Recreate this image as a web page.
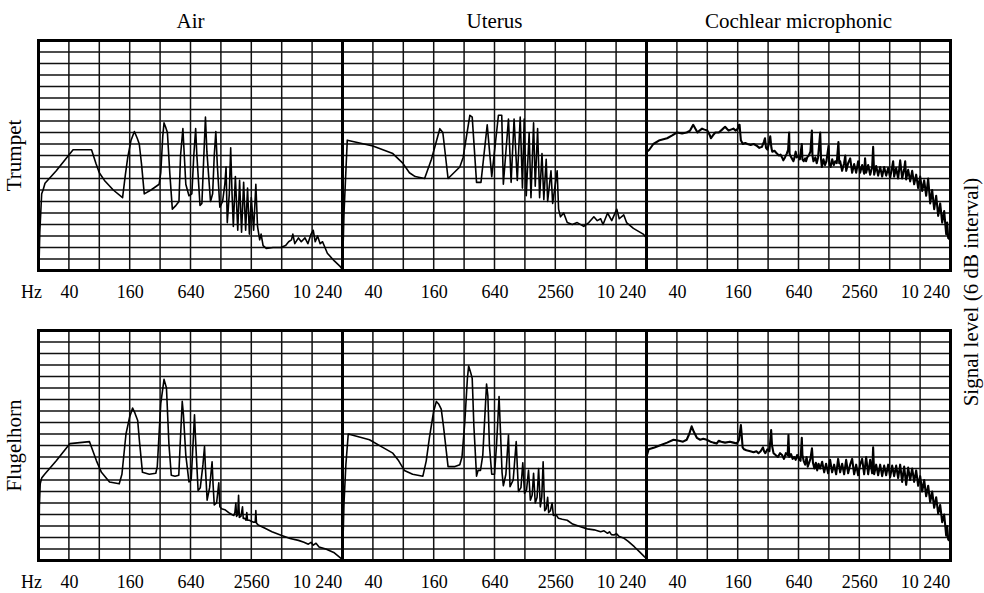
<!DOCTYPE html>
<html>
<head>
<meta charset="utf-8">
<script src="https://cdn.jsdelivr.net/npm/d3@7"></script>
<style>
  body { margin: 0; background: #fff; }
  svg { display: block; font-family: "Liberation Serif", "Times New Roman", serif; }
</style>
</head>
<body>
<div id="app"></div>
<script>
// spectra of trumpet / flugelhorn tones: air, in utero, and cochlear microphonic
// levels in dB above the bottom of the chart (grid = 6 dB), frequency in Hz

const columnTitles = ["Air", "Uterus", "Cochlear microphonic"];
const rowTitles = ["Trumpet", "Flugelhorn"];
const levelTitle = "Signal level (6 dB interval)";

const octaveGridHz = [40, 80, 160, 320, 640, 1280, 2560, 5120, 10240];
const tickHz = [40, 160, 640, 2560, 10240];
const tickText = ["40", "160", "640", "2560", "10 240"];
const levelGridDb = [6, 12, 18, 24, 30, 36, 42, 48, 54, 60, 66, 72, 78, 84, 90, 96, 102, 108, 114];

const trumpetAir = [
  [20.2, 1], [20.6, 20], [21.5, 40], [22.2, 42], [23.2, 45.5], [30, 52], [37, 58], [44, 63],
  [67, 63], [74, 56], [80, 51], [90, 47], [110, 42], [136, 38], [145, 50], [153, 59], [165, 68],
  [178, 72.5], [190, 69], [199, 66], [210, 55], [223, 40], [260, 42], [313, 45], [325, 51],
  [340, 70], [350, 77], [362, 75], [378, 72], [400, 50], [423, 32], [460, 34], [492, 36],
  [510, 60], [538, 74], [548, 66], [575, 45], [618, 39], [660, 40], [690, 60], [720, 74],
  [740, 60], [795, 34], [830, 35], [860, 55], [900, 80], [930, 62], [1010, 36], [1060, 40],
  [1100, 60], [1140, 72.5], [1180, 55], [1250, 33], [1330, 36], [1400, 45], [1440, 54],
  [1480, 25], [1550, 40], [1600, 64], [1650, 40], [1700, 23], [1780, 49], [1880, 21],
  [1960, 47], [2050, 20], [2150, 46], [2250, 21], [2350, 43], [2450, 19], [2560, 38],
  [2700, 21], [2840, 45], [2950, 23], [3100, 16], [3200, 19], [3350, 13], [3600, 11.5],
  [4200, 12], [5000, 12], [5600, 13], [6000, 15], [6400, 16], [6600, 19], [6900, 14],
  [7500, 17], [8000, 15], [8700, 17], [9300, 14], [10000, 19], [10500, 21], [11000, 15],
  [11600, 18], [12300, 14], [13000, 15], [14500, 9], [17000, 5], [19500, 2], [20480, 0.5]
];

const trumpetUterus = [
  [20, 1], [20.7, 30], [22.3, 68], [40, 65], [63, 61], [79, 56], [92, 51], [105, 49],
  [130, 48], [152, 58], [184, 74], [197, 72], [222, 48], [290, 54], [313, 59], [365, 81],
  [385, 80], [425, 46], [470, 46], [542, 76], [601, 49], [700, 81], [755, 81], [783, 45],
  [880, 79], [935, 46], [1000, 79], [1076, 47], [1150, 80], [1210, 43], [1260, 79],
  [1320, 39], [1410, 72], [1470, 38], [1560, 77], [1620, 44], [1710, 74], [1790, 38],
  [1890, 61], [1970, 37], [2080, 58], [2150, 36], [2320, 52], [2410, 35], [2670, 52],
  [2760, 32], [2880, 28], [3100, 30], [3360, 25], [3770, 24], [4220, 25], [4900, 23],
  [5500, 25], [6170, 28], [6670, 26], [7200, 27], [7600, 24], [8430, 30], [9270, 26],
  [10400, 32], [11000, 27], [12200, 29], [13000, 25], [15200, 22], [19000, 19], [20480, 17]
];

const trumpetCochlear = [
  [20, 57], [20.2, 62], [21.3, 63], [23.4, 66], [27, 68], [32, 69], [36, 70.5], [40, 72],
  [45, 71.5], [50, 72], [54, 73], [58, 76], [61, 74], [64, 72], [67, 73], [71, 74], [75, 73.5],
  [80, 73], [84, 71], [87, 69], [91, 70.5], [96, 72], [104, 72], [112, 73.5], [120, 75],
  [125, 74], [130, 73], [137, 73.5], [145, 74], [153, 73], [160, 74], [165, 76], [167, 76],
  [170, 71], [172, 68], [180, 66], [190, 66.5], [200, 66], [215, 65.5], [230, 66], [248, 65],
  [262, 64], [278, 64.5], [290, 67], [298, 69], [305, 64], [315, 63], [325, 66], [336, 70],
  [345, 64], [352, 62], [370, 62.5], [391, 61], [410, 60], [425, 60.5], [440, 59], [453, 57.5],
  [470, 59], [490, 61], [505, 63], [517, 72], [522, 61], [530, 60], [550, 58.5], [570, 57],
  [585, 59], [600, 62], [615, 59], [640, 60], [660, 58], [690, 66], [700, 58], [720, 57],
  [745, 58.5], [760, 57], [780, 59], [810, 60], [840, 62], [868, 73], [880, 60], [900, 57],
  [940, 59], [970, 56], [1000, 59], [1050, 72], [1070, 58], [1090, 54], [1130, 58], [1170, 55],
  [1210, 57], [1270, 65], [1290, 56], [1330, 54], [1380, 58], [1430, 55], [1480, 57],
  [1530, 56], [1590, 67], [1620, 56], [1654, 57], [1730, 52], [1810, 56], [1860, 60],
  [1900, 52], [1985, 56], [2080, 58.5], [2175, 51], [2276, 55.5], [2383, 51], [2494, 57],
  [2610, 51], [2732, 55], [2860, 50.5], [2920, 58.5], [2993, 51], [3133, 55], [3279, 50],
  [3432, 54], [3510, 64.5], [3592, 50], [3760, 54.5], [3935, 49.5], [4119, 54], [4311, 49],
  [4512, 54], [4723, 49.5], [4943, 53.5], [5174, 48.5], [5416, 54], [5540, 57], [5668, 49],
  [5933, 53.5], [6210, 48], [6500, 57.5], [6803, 48], [7121, 53], [7290, 57], [7453, 47.5],
  [7801, 52.5], [8165, 46.5], [8546, 52], [8945, 45], [9363, 50], [9800, 43], [10257, 49],
  [10736, 41.5], [11237, 47], [11762, 39], [12311, 48], [12885, 35], [13487, 42], [14116, 32],
  [14775, 39], [15465, 28.5], [16187, 35], [16942, 25], [17733, 31], [18561, 19], [19000, 25],
  [19427, 17], [20334, 16]
];

const flugelAir = [
  [20.2, 5], [20.4, 28], [20.8, 40], [21.5, 43], [23, 45], [30, 52], [41, 61], [64, 62],
  [75, 52], [84, 46], [101, 41], [126, 40], [134, 45], [147, 66], [160, 75], [171, 79.5],
  [180, 77], [192, 73], [200, 62], [214, 46], [250, 45], [290, 45.5], [300, 49], [325, 82],
  [350, 94.5], [370, 90], [391, 61], [413, 44.5], [450, 44], [490, 44.5], [505, 60], [530, 83],
  [545, 76], [575, 55], [618, 41], [650, 42], [680, 62], [701, 76], [720, 62], [761, 36.5],
  [800, 38], [850, 50], [881, 59.5], [900, 48], [935, 31.5], [990, 38], [1047, 51.5],
  [1070, 40], [1100, 29], [1160, 30], [1220, 40.5], [1250, 28], [1300, 27], [1400, 26.5],
  [1530, 25], [1640, 24], [1720, 23.5], [1760, 25], [1800, 30], [1830, 23], [1880, 24],
  [1915, 34], [1950, 22.5], [2020, 23], [2095, 28], [2130, 22], [2200, 22], [2270, 21],
  [2310, 25], [2350, 21], [2450, 21], [2560, 20.5], [2700, 20], [2800, 20], [2840, 26],
  [2880, 19.5], [3000, 18.5], [3500, 16.8], [4100, 15], [5120, 13], [6200, 11.5], [7500, 10.5],
  [8500, 9.5], [9400, 8.5], [10000, 9.5], [10500, 8], [11200, 9], [12000, 7], [14000, 6],
  [17000, 4], [20480, 0.5]
];

const flugelUterus = [
  [20, 1], [20.7, 30], [21.6, 50], [22.8, 66], [37, 63], [50, 59], [63, 56], [72, 52],
  [82, 47], [99, 45], [125, 44], [135, 52], [145, 64], [160, 78], [170, 83], [180, 81.5],
  [190, 79], [200, 70], [222, 49], [260, 49], [290, 50], [305, 54], [325, 72], [345, 95],
  [355, 101.5], [372, 98], [385, 95], [400, 70], [425, 44], [440, 47], [465, 47], [490, 55],
  [534, 92], [550, 86], [570, 60], [601, 45], [640, 45], [670, 60], [710, 85.5], [730, 70],
  [760, 46], [783, 39], [830, 45], [880, 65.5], [912, 38.5], [980, 42], [1050, 62],
  [1105, 36], [1170, 38], [1220, 51], [1270, 35], [1330, 37], [1390, 47], [1450, 31.5],
  [1510, 34], [1560, 45.5], [1620, 30], [1690, 33], [1750, 48], [1820, 28], [1880, 33],
  [1940, 51.5], [2010, 26], [2080, 27], [2150, 33], [2200, 25], [2290, 26], [2380, 30],
  [2450, 23.5], [2600, 24], [2750, 22], [3000, 21.5], [3360, 21], [3800, 19], [4550, 17.6],
  [5300, 16.5], [6200, 16], [7200, 15], [7780, 15.5], [8430, 14.2], [8800, 15], [9200, 13.5],
  [9760, 13.3], [10300, 14], [11000, 12.5], [12300, 11.6], [13500, 10], [15500, 7.2],
  [17500, 4.5], [19500, 2], [20480, 1]
];

const flugelCochlear = [
  [20, 52], [20.2, 55], [21, 58], [24, 59], [27, 60], [32, 61.5], [37, 63], [42, 62.5],
  [46, 62], [50, 63], [53, 66], [56, 70], [59, 67], [63, 64], [68, 63], [73, 63.5], [79, 63],
  [86, 62], [92, 61.5], [99, 61], [104, 62.5], [110, 62], [120, 61.5], [134, 62], [145, 61.5],
  [157, 61], [165, 63], [172, 70.7], [175, 66], [179, 59], [185, 58], [195, 57.5], [213, 57],
  [230, 56.5], [245, 57], [257, 56], [270, 57], [285, 59], [292, 57], [300, 56], [315, 58],
  [330, 57], [343, 68], [350, 60], [362, 56], [380, 55], [400, 54], [420, 56], [440, 55],
  [460, 53], [480, 56], [500, 55], [509, 65.5], [518, 54], [540, 55.5], [560, 53], [580, 54],
  [600, 52.5], [620, 55], [645, 53], [670, 52], [690, 64], [700, 55], [720, 52], [745, 50],
  [770, 54], [790, 49], [810, 50.5], [840, 53], [870, 58.5], [890, 51], [920, 48], [950, 51],
  [980, 47], [1010, 50.5], [1048, 48], [1097, 51.5], [1150, 46], [1200, 50.5], [1258, 45.5],
  [1316, 52.5], [1378, 46], [1442, 50], [1510, 45], [1580, 53], [1654, 46], [1731, 50.5],
  [1812, 45], [1897, 52.5], [1985, 45.5], [2078, 50], [2175, 53], [2276, 45], [2383, 50],
  [2494, 44.5], [2610, 50], [2732, 53], [2860, 45], [2993, 54], [3133, 45], [3279, 52.5],
  [3432, 45.5], [3510, 59], [3592, 45], [3760, 50], [3935, 44.5], [4119, 50], [4311, 44],
  [4512, 49.5], [4723, 44.5], [4943, 50], [5174, 43.5], [5416, 49.5], [5668, 44], [5933, 49.5],
  [6210, 43], [6500, 50], [6803, 41], [7121, 49], [7453, 39.5], [7801, 48.5], [8165, 42],
  [8546, 48], [8945, 41], [9363, 47], [9800, 39], [10257, 44], [10736, 36], [11237, 42],
  [11762, 33.5], [12311, 39], [12885, 30.5], [13487, 36], [14116, 27.5], [14775, 33],
  [15465, 24.5], [16187, 29], [16942, 20], [17733, 24], [18561, 13], [19000, 18], [19427, 11],
  [20334, 10]
];

function drawStuff() {
  // 1. dimensions

  const dimensions = {
    width: 984,
    height: 593,
    panelWidth: 304,
    panelHeight: 230,
    lefts: [38.5, 342.5, 646.5],
    tops: [40.5, 330.5]
  };

  const series = [
    [trumpetAir, trumpetUterus, trumpetCochlear],
    [flugelAir, flugelUterus, flugelCochlear]
  ];
  // the cochlear traces are noisy, drawn a touch heavier
  const traceWidth = [1.6, 1.6, 2.1];

  // 2. canvas

  const wrapper = d3
    .select("#app")
    .append("svg")
    .attr("width", dimensions.width)
    .attr("height", dimensions.height);

  // 3. panels

  rowTitles.forEach((rowName, r) => {
    const top = dimensions.tops[r];
    const bottom = top + dimensions.panelHeight;

    wrapper
      .append("text")
      .attr("transform", `translate(21, ${top + dimensions.panelHeight / 2}) rotate(-90)`)
      .attr("text-anchor", "middle")
      .attr("font-size", 21)
      .text(rowName);

    wrapper
      .append("text")
      .attr("x", 21)
      .attr("y", bottom + 27)
      .attr("font-size", 18)
      .text("Hz");

    columnTitles.forEach((colName, c) => {
      const left = dimensions.lefts[c];

      const xScale = d3
        .scaleLog()
        .base(2)
        .domain([20, 20480])
        .range([left, left + dimensions.panelWidth]);

      const yScale = d3
        .scaleLinear()
        .domain([0, 120])
        .range([bottom, top]);

      const panel = wrapper.append("g");

      // grid
      panel
        .append("g")
        .selectAll("line")
        .data(levelGridDb)
        .join("line")
        .attr("x1", left)
        .attr("x2", left + dimensions.panelWidth)
        .attr("y1", (d) => yScale(d))
        .attr("y2", (d) => yScale(d))
        .attr("stroke", "#111")
        .attr("stroke-width", 1.5);

      panel
        .append("g")
        .selectAll("line")
        .data(octaveGridHz)
        .join("line")
        .attr("x1", (d) => xScale(d))
        .attr("x2", (d) => xScale(d))
        .attr("y1", top)
        .attr("y2", bottom)
        .attr("stroke", "#111")
        .attr("stroke-width", 1.5);

      // spectrum
      const clipId = `clip-${r}-${c}`;
      panel
        .append("clipPath")
        .attr("id", clipId)
        .append("rect")
        .attr("x", left)
        .attr("y", top)
        .attr("width", dimensions.panelWidth)
        .attr("height", dimensions.panelHeight);

      const line = d3
        .line()
        .x((d) => xScale(d[0]))
        .y((d) => yScale(d[1]));

      panel
        .append("path")
        .datum(series[r][c])
        .attr("clip-path", `url(#${clipId})`)
        .attr("d", line)
        .attr("fill", "none")
        .attr("stroke", "#000")
        .attr("stroke-width", traceWidth[c])
        .attr("stroke-linejoin", "round");

      // frame
      panel
        .append("rect")
        .attr("x", left)
        .attr("y", top)
        .attr("width", dimensions.panelWidth)
        .attr("height", dimensions.panelHeight)
        .attr("fill", "none")
        .attr("stroke", "#000")
        .attr("stroke-width", 3);

      // frequency labels
      const xAxisGenerator = d3
        .axisBottom(xScale)
        .tickValues(tickHz)
        .tickFormat((d, i) => tickText[i])
        .tickSize(0);

      const xAxis = panel
        .append("g")
        .attr("transform", `translate(0, ${bottom})`)
        .call(xAxisGenerator);

      xAxis.select(".domain").remove();
      xAxis.attr("font-size", 18).attr("font-family", null);
      xAxis
        .selectAll("text")
        .attr("y", 27)
        .attr("dy", null)
        .attr("dx", (d) => (d === 10240 ? 5 : 0))
        .attr("fill", "#000");

      if (r === 0) {
        wrapper
          .append("text")
          .attr("x", left + dimensions.panelWidth / 2)
          .attr("y", 28)
          .attr("text-anchor", "middle")
          .attr("font-size", 21)
          .text(colName);
      }
    });
  });

  // 4. level title on the right

  wrapper
    .append("text")
    .attr("transform", "translate(978, 292) rotate(-90)")
    .attr("text-anchor", "middle")
    .attr("font-size", 21)
    .text(levelTitle);
}

drawStuff();
</script>
</body>
</html>
